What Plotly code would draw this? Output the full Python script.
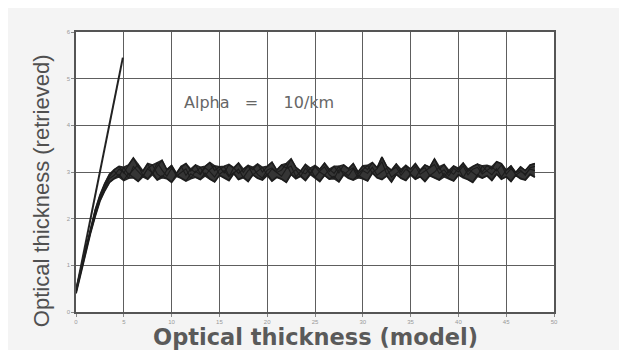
import plotly.graph_objects as go

# ---- data ----
x_grid = [i * 0.5 for i in range(97)]  # 0 .. 48 in steps of 0.5

series_a = [0.45, 0.90, 1.32, 1.74, 2.12, 2.42, 2.68, 2.90,
            3.05, 3.12, 2.98, 3.15, 3.30, 3.10, 3.02, 3.18, 2.95, 3.12,
            3.25, 3.05, 3.14, 2.97, 3.10, 3.18, 3.02, 3.15, 2.96, 3.12,
            3.20, 3.03, 3.11, 2.98, 3.16, 3.08, 3.19, 2.99, 3.13, 3.05,
            3.17, 3.00, 3.12, 3.21, 3.04, 3.15, 3.08, 3.28, 3.10, 3.02,
            3.16, 2.97, 3.14, 3.06, 3.19, 3.01, 3.12, 2.98, 3.15, 3.07,
            3.18, 3.00, 3.13, 3.05, 3.20, 3.09, 3.32, 3.12, 3.03, 3.17,
            2.99, 3.14, 3.06, 3.18, 3.02, 3.15, 3.10, 3.28, 3.06, 3.16,
            2.98, 3.13, 3.05, 3.19, 3.01, 3.12, 3.17, 3.00, 3.14, 3.06,
            3.22, 3.18, 3.04, 3.13, 2.99, 3.11, 3.03, 3.15, 3.18]

series_b = [0.40, 0.85, 1.28, 1.68, 2.05, 2.38, 2.60, 2.78,
            2.86, 2.95, 2.82, 2.97, 2.88, 2.80, 2.94, 2.85, 2.99, 2.83,
            2.92, 2.86, 2.78, 2.95, 2.87, 2.81, 2.96, 2.89, 2.84, 2.98,
            2.85, 2.79, 2.93, 2.88, 2.82, 2.97, 2.84, 2.90, 2.80, 2.94,
            2.87, 2.83, 2.96, 2.81, 2.89, 2.85, 2.78, 2.95, 2.86, 2.92,
            2.82, 2.97, 2.88, 2.80, 2.93, 2.85, 2.91, 2.79, 2.96, 2.87,
            2.83, 2.94, 2.86, 2.81, 2.98, 2.88, 2.84, 2.92, 2.79, 2.95,
            2.87, 2.82, 2.96, 2.85, 2.90, 2.80, 2.93, 2.88, 2.83, 2.97,
            2.86, 2.81, 2.94, 2.89, 2.84, 2.78, 2.95, 2.87, 2.92, 2.82,
            2.96, 2.85, 2.90, 2.80, 2.93, 2.86, 2.83, 2.95, 2.89]

series_c = [0.48, 0.92, 1.36, 1.78, 2.18, 2.50, 2.75, 2.95,
            3.02, 2.90, 3.10, 2.94, 3.05, 3.16, 2.92, 3.07, 2.98, 3.20,
            3.04, 2.91, 3.08, 2.96, 3.12, 2.93, 3.06, 2.99, 3.10, 2.92,
            3.05, 3.13, 2.95, 3.03, 2.90, 3.09, 2.97, 3.06, 3.14, 2.94,
            3.02, 3.10, 2.93, 3.07, 2.99, 3.04, 3.18, 2.96, 3.05, 2.91,
            3.08, 2.95, 3.11, 3.00, 2.93, 3.06, 2.97, 3.12, 2.94, 3.03,
            3.09, 2.96, 3.05, 3.14, 2.98, 3.07, 3.22, 2.95, 3.04, 3.10,
            2.93, 3.06, 2.99, 3.12, 2.95, 3.03, 3.09, 3.16, 2.97, 3.05,
            2.92, 3.08, 3.00, 3.13, 2.94, 3.06, 3.10, 2.96, 3.04, 3.11,
            3.02, 3.15, 2.95, 3.07, 2.98, 3.04, 2.93, 3.09, 3.12]

series_d = [0.42, 0.88, 1.30, 1.70, 2.10, 2.44, 2.66, 2.86,
            2.93, 3.06, 2.99, 2.87, 3.12, 3.00, 2.90, 3.08, 3.15, 2.96,
            2.88, 3.04, 3.11, 2.91, 2.99, 3.07, 2.86, 3.02, 2.94, 3.09,
            3.01, 2.89, 3.05, 3.12, 2.92, 2.98, 3.06, 2.88, 3.03, 3.10,
            2.95, 2.87, 3.04, 3.09, 2.99, 2.91, 3.07, 3.13, 2.90, 3.01,
            2.96, 3.08, 2.89, 3.02, 3.11, 2.94, 2.86, 3.05, 3.00, 2.92,
            3.07, 2.88, 3.03, 2.97, 3.10, 2.93, 3.01, 3.08, 2.89, 2.98,
            3.05, 3.12, 2.94, 2.87, 3.04, 3.09, 2.92, 3.00, 3.11, 2.90,
            3.03, 2.95, 3.08, 2.88, 3.06, 2.99, 2.91, 3.13, 3.02, 2.94,
            3.07, 2.89, 3.04, 3.10, 2.93, 3.01, 2.96, 3.06, 3.03]

# reference straight line (retrieved = model)
line_x = [0.05, 4.90]
line_y = [0.50, 5.45]

x_ticks = [0, 5, 10, 15, 20, 25, 30, 35, 40, 45, 50]
y_ticks = [0, 1, 2, 3, 4, 5, 6]

x_title = "Optical thickness (model)"
y_title = "Optical thickness (retrieved)"
note_text = "Alpha\u00a0\u00a0\u00a0=\u00a0\u00a0\u00a0\u00a0\u00a010/km"

# ---- derived envelope of all runs (for the dense dark band) ----
all_runs = [series_a, series_b, series_c, series_d]
band_low = [min(v) for v in zip(*all_runs)]
band_high = [max(v) for v in zip(*all_runs)]

# ---- figure ----
fig = go.Figure()
fig.add_trace(go.Scatter(x=x_grid, y=band_low, mode="lines",
                         line=dict(color="#262626", width=1.9),
                         showlegend=False, hoverinfo="skip"))
fig.add_trace(go.Scatter(x=x_grid, y=band_high, mode="lines", fill="tonexty",
                         fillcolor="#353535",
                         line=dict(color="#262626", width=1.7),
                         showlegend=False, hoverinfo="skip"))
for s in all_runs:
    fig.add_trace(go.Scatter(x=x_grid, y=s, mode="lines",
                             line=dict(color="#1c1c1c", width=1.1),
                             showlegend=False, hoverinfo="skip"))
fig.add_trace(go.Scatter(x=line_x, y=line_y, mode="lines",
                         line=dict(color="#222222", width=2.0),
                         showlegend=False, hoverinfo="skip"))

axis_common = dict(showgrid=True, gridcolor="#5e5e5e", gridwidth=1.3,
                   showline=True, mirror=True, linecolor="#555555", linewidth=1.5,
                   ticks="outside", ticklen=3, tickcolor="#888888",
                   zeroline=False,
                   tickfont=dict(family="Liberation Sans, Arial, sans-serif",
                                 size=6, color="#999999"))

fig.update_xaxes(range=[0, 50], tickvals=x_ticks, **axis_common)
fig.update_yaxes(range=[0, 6], tickvals=y_ticks, **axis_common)

fig.add_annotation(x=19.1, y=4.5, xref="x", yref="y", text=note_text,
                   showarrow=False, xanchor="center",
                   font=dict(family="DejaVu Sans, sans-serif", size=16, color="#666666"))

fig.add_annotation(x=0.5, y=0, xref="paper", yref="paper", text=x_title,
                   showarrow=False, xanchor="center", yanchor="middle", yshift=-25,
                   font=dict(family="DejaVu Sans, sans-serif", size=22.5,
                             color="#5a5a5a", weight="bold"))
fig.add_annotation(x=-0.073, y=0.432, xref="paper", yref="paper", text=y_title,
                   showarrow=False, textangle=-90, xanchor="center", yanchor="middle",
                   font=dict(family="Liberation Sans, Arial, sans-serif", size=22,
                             color="#505050"))

# the page body has an 8 px margin, so the figure is sized to the visible area
fig.update_layout(width=619, height=342,
                  margin=dict(l=68, r=73, t=24, b=38),
                  paper_bgcolor="#f4f4f4", plot_bgcolor="#ffffff")

fig.write_html("out.html")
